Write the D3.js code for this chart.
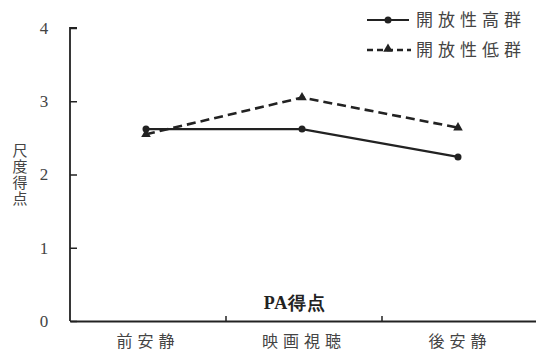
<!DOCTYPE html>
<html><head><meta charset="utf-8">
<script src="https://cdn.jsdelivr.net/npm/d3@7"></script>
<style>body{margin:0;background:#fff}svg{display:block}</style>
</head><body><svg id="c" width="536" height="351"></svg>
<script>
const categories = ["前安静", "映画視聴", "後安静"];
const highGroup = [2.62, 2.62, 2.24];
const lowGroup = [2.55, 3.05, 2.64];
const yTicks = [0, 1, 2, 3, 4];
const seriesNames = ["開放性高群", "開放性低群"];

const svg = d3.select("#c");
const x = d3.scaleBand().domain(categories).range([70, 538]);
const y = d3.scaleLinear().domain([0, 4]).range([321, 28]);
const ink = "#222";
const txt = "#444";
const cjk = "'Noto Sans CJK JP', sans-serif";
const serif = "'Liberation Serif', 'DejaVu Serif', serif";

// y axis
const ya = svg.append("g").attr("transform", "translate(70,0)")
  .call(d3.axisRight(y).tickValues(yTicks).tickSize(7).tickFormat(""));
ya.select(".domain").attr("stroke", ink).attr("stroke-width", 1.8).attr("d", `M7,${y(4)}H0V${y(0)}`);
ya.selectAll(".tick line").attr("stroke", ink).attr("stroke-width", 1.5);
svg.append("g").selectAll("text").data(yTicks).join("text")
  .attr("x", 44).attr("y", d => y(d)).attr("dy", "0.35em")
  .attr("text-anchor", "middle").attr("fill", txt)
  .attr("font-family", serif).attr("font-size", 17).text(d => d);

// x axis
const xa = svg.append("g").attr("transform", `translate(0,${y(0)})`)
  .call(d3.axisTop(x).tickValues([]).tickSizeOuter(0));
xa.select(".domain").attr("stroke", ink).attr("stroke-width", 1.8);
svg.append("g").selectAll("line").data(categories.slice(1)).join("line")
  .attr("x1", d => x(d)).attr("x2", d => x(d))
  .attr("y1", y(0)).attr("y2", y(0) - 5)
  .attr("stroke", ink).attr("stroke-width", 1.5);
svg.append("g").selectAll("text").data(categories).join("text")
  .attr("x", d => x(d) + x.bandwidth() / 2).attr("y", 341).attr("dy", "0.35em")
  .attr("text-anchor", "middle").attr("fill", txt)
  .attr("font-family", cjk).attr("font-size", 16).attr("letter-spacing", 5).text(d => d);

// axis titles
svg.append("text").attr("x", 295).attr("y", 303).attr("dy", "0.35em")
  .attr("text-anchor", "middle").attr("fill", "#222")
  .attr("font-family", serif).attr("font-weight", "bold").attr("font-size", 18).attr("letter-spacing", 1).text("PA得点");
svg.append("text").attr("x", 20).attr("y", 143)
  .style("writing-mode", "vertical-rl").style("text-orientation", "upright")
  .attr("fill", txt).attr("font-family", cjk).attr("font-size", 15).attr("letter-spacing", 1)
  .text("尺度得点");

// lines
const cx = d => x(d) + x.bandwidth() / 2 - 2;
const line = d3.line().x((d, i) => cx(categories[i])).y(d => y(d));
svg.append("path").datum(highGroup).attr("d", line).attr("fill", "none")
  .attr("stroke", ink).attr("stroke-width", 2.2);
svg.append("path").datum(lowGroup).attr("d", line).attr("fill", "none")
  .attr("stroke", ink).attr("stroke-width", 2.6).attr("stroke-dasharray", "9,5");
svg.append("g").selectAll("circle").data(highGroup).join("circle")
  .attr("cx", (d, i) => cx(categories[i])).attr("cy", d => y(d)).attr("r", 3.5).attr("fill", ink);
const tri = d3.symbol().type(d3.symbolTriangle).size(40);
svg.append("g").selectAll("path").data(lowGroup).join("path")
  .attr("d", tri).attr("transform", (d, i) => `translate(${cx(categories[i])},${y(d)})`).attr("fill", ink);

// legend
const lg = svg.append("g");
const rows = [20, 50];
lg.append("line").attr("x1", 367).attr("x2", 409).attr("y1", rows[0]).attr("y2", rows[0])
  .attr("stroke", ink).attr("stroke-width", 2.2);
lg.append("circle").attr("cx", 388).attr("cy", rows[0]).attr("r", 3.5).attr("fill", ink);
lg.append("line").attr("x1", 367).attr("x2", 411).attr("y1", rows[1]).attr("y2", rows[1])
  .attr("stroke", ink).attr("stroke-width", 2.6).attr("stroke-dasharray", "6,4");
lg.append("path").attr("d", tri).attr("transform", `translate(388,${rows[1] - 1})`).attr("fill", ink);
lg.selectAll("text").data(seriesNames).join("text")
  .attr("x", 416).attr("y", (d, i) => rows[i]).attr("dy", "0.35em")
  .attr("fill", txt).attr("font-family", cjk).attr("font-size", 17).attr("letter-spacing", 5).text(d => d);
</script></body></html>
